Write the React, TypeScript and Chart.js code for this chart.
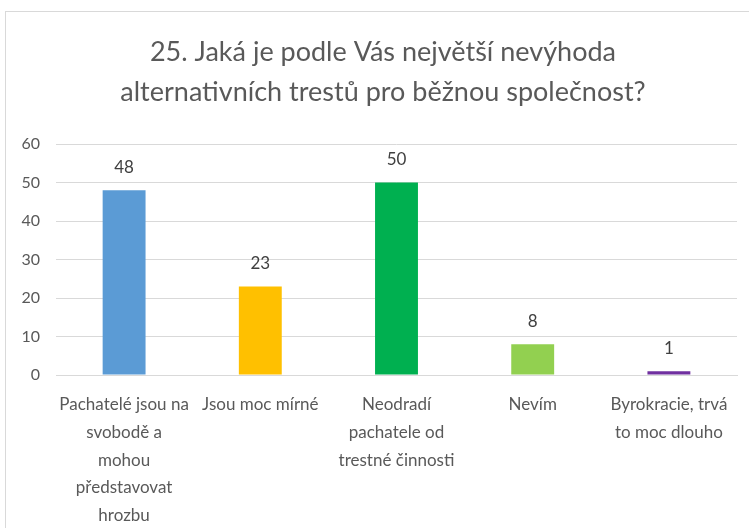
import React, { useEffect, useRef } from "react";
import { Chart, registerables } from "chart.js";

Chart.register(...registerables);

const TITLE_LINES = ["25. Jaká je podle Vás největší nevýhoda", "alternativních trestů pro běžnou společnost?"];
const CATEGORIES: string[][] = [
  ["Pachatelé jsou na", "svobodě a", "mohou", "představovat", "hrozbu"],
  ["Jsou moc mírné"],
  ["Neodradí", "pachatele od", "trestné činnosti"],
  ["Nevím"],
  ["Byrokracie, trvá", "to moc dlouho"],
];
const VALUES = [48, 23, 50, 8, 1];
const COLORS = ["#5B9BD5", "#FFC000", "#00B050", "#92D050", "#7030A0"];
const Y_MIN = 0;
const Y_MAX = 60;
const Y_STEP = 10;

const FONT = "Lato, 'Liberation Sans', sans-serif";

const valueLabels = {
  id: "valueLabels",
  afterDatasetsDraw(chart: any) {
    const ctx = chart.ctx;
    const meta = chart.getDatasetMeta(0);
    ctx.save();
    ctx.font = `17px ${FONT}`;
    ctx.fillStyle = "#404040";
    ctx.textAlign = "center";
    ctx.textBaseline = "middle";
    meta.data.forEach((bar: any, i: number) => {
      ctx.fillText(String(VALUES[i]), bar.x, bar.y - 23);
    });
    ctx.restore();
  },
};

const titlePlugin = {
  id: "centeredTitle",
  afterDraw(chart: any) {
    const ctx = chart.ctx;
    ctx.save();
    ctx.font = `27px ${FONT}`;
    ctx.fillStyle = "#595959";
    ctx.textAlign = "center";
    ctx.textBaseline = "middle";
    TITLE_LINES.forEach((line, i) => {
      ctx.fillText(line, 383, 52 + i * 40);
    });
    ctx.restore();
  },
};

export default function App() {
  const ref = useRef<HTMLCanvasElement | null>(null);
  useEffect(() => {
    document.body.style.margin = "0";
    document.body.style.overflow = "hidden";
    const chart = new Chart(ref.current!, {
      type: "bar",
      data: {
        labels: CATEGORIES,
        datasets: [
          {
            data: VALUES,
            backgroundColor: COLORS,
            borderWidth: 0,
            categoryPercentage: 1,
            barPercentage: 0.315,
          },
        ],
      },
      options: {
        animation: false,
        responsive: false,
        layout: { padding: { left: 16, right: 12, top: 144, bottom: 0 } },
        plugins: {
          legend: { display: false },
          tooltip: { enabled: false },
          title: { display: false },
        },
        scales: {
          x: {
            grid: { display: false },
            border: { display: true, color: "#d9d9d9" },
            ticks: {
              color: "#595959",
              font: { family: FONT, size: 17, lineHeight: 1.63 },
              padding: 8,
              autoSkip: false,
              maxRotation: 0,
              minRotation: 0,
            },
            afterFit(scale: any) {
              scale.height = 153;
            },
          },
          y: {
            min: Y_MIN,
            max: Y_MAX,
            grid: { color: "#d9d9d9", drawTicks: false },
            border: { display: false },
            ticks: {
              stepSize: Y_STEP,
              color: "#595959",
              font: { family: FONT, size: 16 },
              padding: 16,
            },
            afterFit(scale: any) {
              scale.width = 40;
            },
          },
        },
      },
      plugins: [valueLabels, titlePlugin],
    });
    return () => chart.destroy();
  }, []);
  return (
    <div style={{ position: "relative", width: 749, height: 528, overflow: "hidden", background: "#fff" }}>
      <div
        style={{
          position: "absolute",
          left: 5,
          top: 11,
          width: 800,
          height: 600,
          border: "1px solid #d9d9d9",
          boxSizing: "border-box",
        }}
      />
      <canvas ref={ref} width={749} height={528} style={{ position: "absolute", left: 0, top: 0 }} />
    </div>
  );
}
